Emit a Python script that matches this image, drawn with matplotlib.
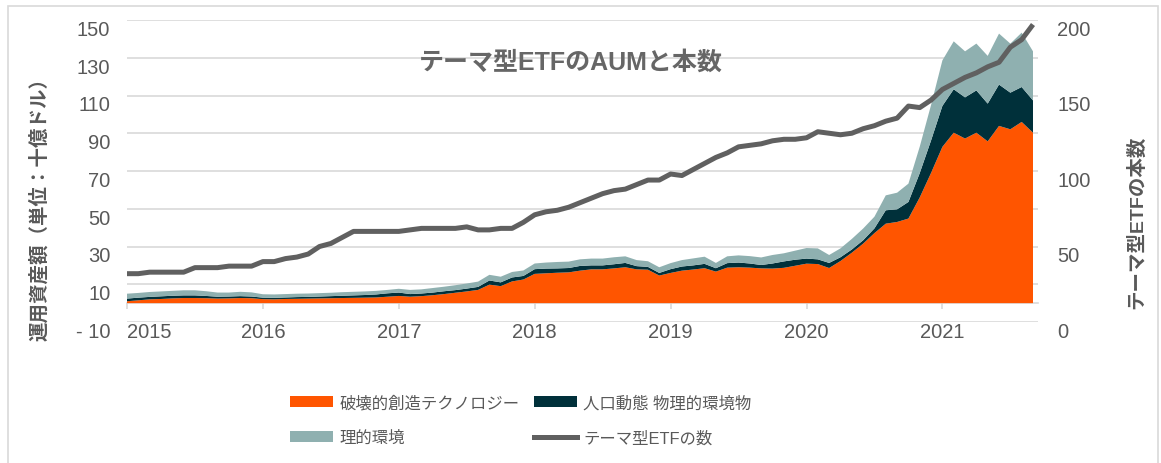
import numpy as np
import matplotlib
matplotlib.use("Agg")
import matplotlib.pyplot as plt
from matplotlib.patches import Patch, Rectangle
from matplotlib.lines import Line2D

plt.rcParams['font.family'] = ['Liberation Sans', 'Noto Sans CJK JP', 'DejaVu Sans']

# ---------------- data (monthly, Jan 2015 - Sep 2021) ----------------
tech = [1.0, 1.5, 2.0, 2.2, 2.5, 2.7, 2.7, 2.6, 2.4, 2.5, 2.7, 2.6,
        2.1, 2.0, 2.2, 2.3, 2.4, 2.5, 2.6, 2.7, 2.8, 2.9, 3.0, 3.4,
        3.8, 3.4, 3.7, 4.2, 4.8, 5.5, 6.2, 7.0, 9.8, 9.0, 11.5, 12.5,
        15.5, 15.8, 16.1, 16.3, 17.2, 17.9, 17.9, 18.4, 19.0, 17.9, 17.7, 14.6,
        16.0, 17.2, 17.8, 18.5, 16.7, 18.8, 19.0, 18.8, 18.4, 18.3, 18.7, 19.8,
        20.9, 20.7, 18.6, 22.3, 26.7, 31.5, 37.1, 42.1, 43.0, 44.8, 56.0, 69.0,
        82.8, 90.3, 87.2, 90.3, 85.7, 93.9, 92.1, 96.0, 90.3]
demo = [1.4, 1.4, 1.3, 1.4, 1.4, 1.4, 1.4, 1.2, 1.0, 1.0, 1.0, 0.9,
        0.8, 0.8, 0.8, 0.9, 0.9, 1.0, 1.1, 1.2, 1.3, 1.4, 1.6, 1.8,
        1.8, 1.4, 1.4, 1.4, 1.5, 1.4, 1.5, 1.6, 2.2, 2.0, 2.1, 1.9,
        2.5, 2.5, 2.3, 2.3, 2.5, 2.1, 2.1, 2.2, 2.3, 1.7, 1.5, 1.4,
        2.0, 2.2, 2.2, 2.3, 1.8, 2.4, 2.5, 2.2, 1.8, 2.7, 3.4, 3.2,
        2.7, 2.5, 2.7, 2.0, 1.7, 1.8, 2.5, 7.1, 6.7, 8.8, 12.9, 17.2,
        21.7, 23.0, 21.8, 22.4, 20.0, 21.9, 19.4, 18.5, 17.1]
env = [2.6, 2.5, 2.6, 2.6, 2.6, 2.7, 2.7, 2.5, 2.2, 2.1, 2.3, 2.2,
       1.8, 1.8, 1.8, 1.8, 1.8, 1.8, 1.8, 1.9, 1.9, 1.9, 1.9, 1.8,
       2.0, 2.2, 2.2, 2.4, 2.4, 2.6, 2.7, 2.8, 3.0, 3.0, 2.9, 2.9,
       3.0, 3.2, 3.4, 3.4, 3.5, 3.6, 3.6, 3.7, 3.5, 3.2, 3.0, 3.0,
       3.2, 3.4, 3.7, 3.8, 2.8, 3.6, 3.8, 3.9, 4.0, 4.5, 4.3, 4.8,
       5.6, 5.8, 4.2, 4.7, 5.6, 6.2, 6.2, 7.9, 8.8, 9.7, 14.0, 18.8,
       24.1, 25.4, 24.4, 24.8, 25.3, 27.0, 26.0, 28.8, 26.0]
etf_count = [32, 32, 33, 33, 33, 33, 36, 36, 36, 37, 37, 37,
             40, 40, 42, 43, 45, 50, 52, 56, 60, 60, 60, 60,
             60, 61, 62, 62, 62, 62, 63, 61, 61, 62, 62, 66,
             71, 73, 74, 76, 79, 82, 85, 87, 88, 91, 94, 94,
             98, 97, 101, 105, 109, 112, 116, 117, 118, 120, 121, 121,
             122, 126, 125, 124, 125, 128, 130, 133, 135, 143, 142, 147,
             154, 158, 162, 165, 169, 172, 182, 187, 197]

years = ['2015', '2016', '2017', '2018', '2019', '2020', '2021']
left_ticks = [-10, 10, 30, 50, 70, 90, 110, 130, 150]
left_labels = ['- 10', '10', '30', '50', '70', '90', '110', '130', '150']
right_ticks = [0, 50, 100, 150, 200]

series_names = ['破壊的創造テクノロジー', '人口動態 物理的環境物', '理的環境', 'テーマ型ETFの数']
title = 'テーマ型ETFのAUMと本数'
ylabel_left = '運用資産額（単位：十億ドル）'
ylabel_right = 'テーマ型ETFの本数'

# ---------------- style ----------------
c_tech = '#FF5500'
c_demo = '#00303A'
c_env = '#8FB0B0'
c_line = '#606060'
c_grid = '#D9D9D9'
c_text = '#595959'

W, H = 1161, 464
fig = plt.figure(figsize=(W / 100, H / 100), dpi=100)
L, R, T, B = 127, 1038, 21, 323
ax = fig.add_axes([L / W, 1 - B / H, (R - L) / W, (B - T) / H])

x = np.arange(len(tech))
ax.stackplot(x, tech, demo, env, colors=[c_tech, c_demo, c_env], linewidth=0, zorder=2)

ax.set_xlim(0, len(tech) - 1 + 5 / 11.325)
ax.set_ylim(-10, 150)
ax.set_yticks(left_ticks, left_labels)
ax.grid(axis='y', color=c_grid, lw=1.2, zorder=0)
ax.set_axisbelow(True)

for s in ['top', 'right', 'left']:
    ax.spines[s].set_visible(False)
ax.spines['bottom'].set_position(('data', 0))
ax.spines['bottom'].set_color(c_grid)
ax.spines['bottom'].set_linewidth(1.2)
ax.spines['bottom'].set_zorder(1)

ax.set_xticks(np.arange(len(years)) * 12, years)
ax.tick_params(axis='x', direction='out', length=4.5, width=1.2, color=c_grid,
               labelsize=14.5, labelcolor=c_text, pad=9)
ax.tick_params(axis='y', length=0, labelsize=14.5, labelcolor=c_text, pad=12)
for lab in ax.get_yticklabels():
    lab.set_verticalalignment('top')
ax.get_xticklabels()[0].set_horizontalalignment('left')

ax.set_ylabel(ylabel_left, fontsize=14, fontweight='bold', color=c_text)
ax.yaxis.set_label_coords((49 - L) / (R - L), (B - 205) / (B - T))

ax2 = ax.twinx()
ax2.plot(x, etf_count, color=c_line, lw=3.6, solid_capstyle='butt', zorder=5)
ax2.set_ylim(0, 200)
ax2.set_yticks(right_ticks)
ax2.tick_params(axis='y', length=0, labelsize=14.5, labelcolor=c_text, pad=14)
for lab in ax2.get_yticklabels():
    lab.set_verticalalignment('top')
for s in ax2.spines.values():
    s.set_visible(False)
ax2.set_ylabel(ylabel_right, fontsize=14, fontweight='bold', color=c_text)
ax2.yaxis.set_label_coords((1127 - L) / (R - L), (B - 222) / (B - T))

ax.text((571 - L) / (R - L), (B - 63) / (B - T), title, transform=ax.transAxes,
        ha='center', va='center', fontsize=18, fontweight='bold', color='#666666', zorder=6)

handles = [Patch(facecolor=c_tech), Patch(facecolor=c_env),
           Patch(facecolor=c_demo), Line2D([], [], color=c_line, lw=3.6)]
labels = [series_names[0], series_names[2], series_names[1], series_names[3]]
leg = fig.legend(handles, labels, ncol=2, loc='center',
                 bbox_to_anchor=(521 / W, 1 - 421 / H), frameon=False,
                 fontsize=11.8, handlelength=2.6, handleheight=0.7,
                 handletextpad=0.4, columnspacing=0.9, labelspacing=1.2)
for t in leg.get_texts():
    t.set_color(c_text)

fig.add_artist(Rectangle((8 / W, -0.1), (1158 - 8) / W, (H - 7) / H + 0.1,
                         transform=fig.transFigure, fill=False,
                         edgecolor=c_grid, lw=1.2))

fig.savefig('out.png', dpi=100)
